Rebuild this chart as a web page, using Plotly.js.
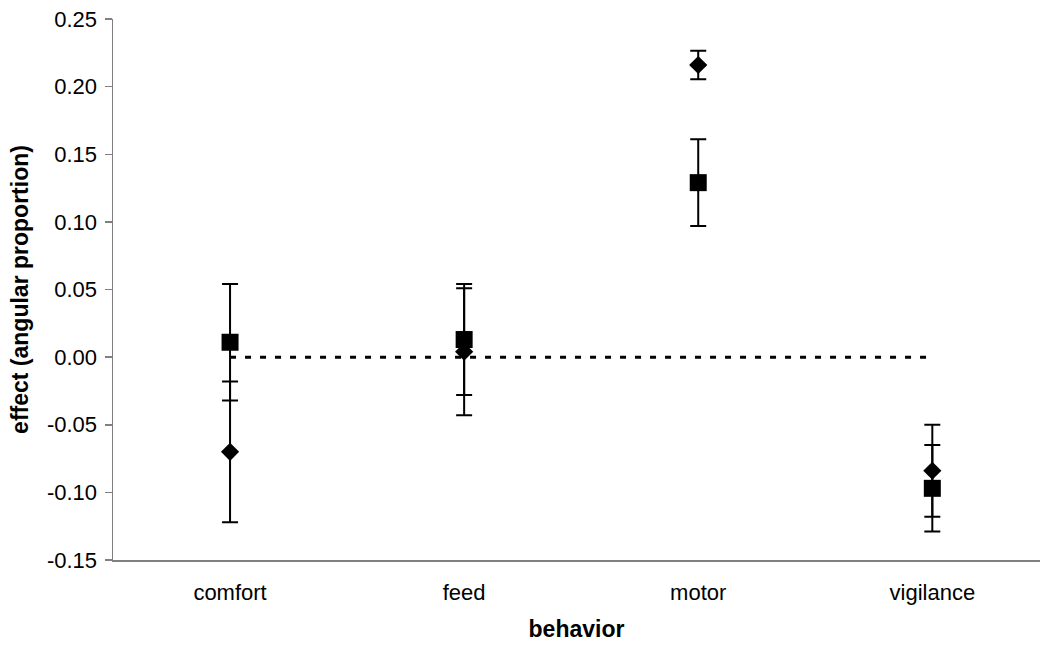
<!DOCTYPE html>
<html>
<head>
<meta charset="utf-8">
<script src="https://cdn.plot.ly/plotly-3.0.1.min.js"></script>
<style>html,body{margin:0;padding:0;background:#fff;}#chart{width:1040px;height:651px;}</style>
</head>
<body>
<div id="chart"></div>
<script>
const categories = ['comfort', 'feed', 'motor', 'vigilance'];
const diamondValues = [-0.070, 0.004, 0.216, -0.084];
const diamondErrors = [0.052, 0.047, 0.0105, 0.034];
const squareValues = [0.011, 0.013, 0.129, -0.097];
const squareErrors = [0.043, 0.041, 0.032, 0.032];
const zeroLine = [0, 0, 0, 0];
const yTickValues = [-0.15, -0.10, -0.05, 0.00, 0.05, 0.10, 0.15, 0.20, 0.25];
const yTickLabels = ['-0.15', '-0.10', '-0.05', '0.00', '0.05', '0.10', '0.15', '0.20', '0.25'];

const font = 'Liberation Sans, Arial, sans-serif';

const traces = [
  {
    x: categories, y: zeroLine, type: 'scatter', mode: 'lines',
    line: {color: '#000', width: 3, dash: '6px,9px'},
    hoverinfo: 'skip', showlegend: false
  },
  {
    x: categories, y: diamondValues, type: 'scatter', mode: 'markers',
    name: 'diamond',
    marker: {symbol: 'diamond', size: 14, color: '#000'},
    error_y: {type: 'data', array: diamondErrors, visible: true, color: '#000', thickness: 2, width: 8}
  },
  {
    x: categories, y: squareValues, type: 'scatter', mode: 'markers',
    name: 'square',
    marker: {symbol: 'square', size: 17, color: '#000'},
    error_y: {type: 'data', array: squareErrors, visible: true, color: '#000', thickness: 2, width: 8}
  }
];

const layout = {
  width: 1040, height: 651,
  margin: {l: 113, r: 0, t: 19, b: 91, pad: 0},
  paper_bgcolor: '#fff', plot_bgcolor: '#fff',
  showlegend: false,
  font: {family: font, size: 22, color: '#000'},
  xaxis: {
    type: 'category',
    range: [-0.5, 3.46],
    showline: true, linecolor: '#808080', linewidth: 1.5,
    showgrid: false, zeroline: false,
    ticks: '', ticklabelstandoff: 12,
    tickfont: {family: font, size: 22, color: '#000'},
    title: {text: 'behavior', font: {family: font, size: 23, color: '#000', weight: 'bold'}, standoff: 17},
    automargin: false
  },
  yaxis: {
    range: [-0.15, 0.25],
    tickvals: yTickValues, ticktext: yTickLabels,
    showline: true, linecolor: '#808080', linewidth: 1.5,
    ticks: 'outside', ticklen: 7, tickcolor: '#808080', tickwidth: 1.5,
    ticklabelstandoff: 3,
    showgrid: false, zeroline: false,
    tickfont: {family: font, size: 22, color: '#000'},
    title: {text: 'effect (angular proportion)', font: {family: font, size: 23, color: '#000', weight: 'bold'}, standoff: 12},
    automargin: false
  }
};

Plotly.newPlot('chart', traces, layout, {displayModeBar: false, staticPlot: true});
</script>
</body>
</html>
